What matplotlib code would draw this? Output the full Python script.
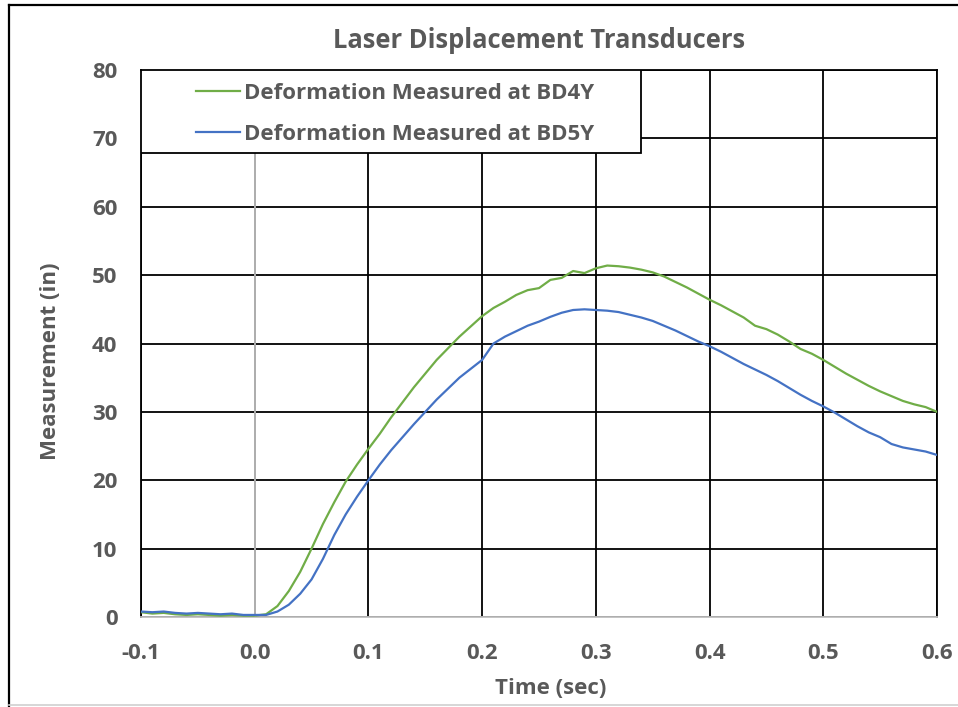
import numpy as np
import matplotlib.pyplot as plt
from matplotlib.patches import Rectangle
from matplotlib.lines import Line2D

# Time axis (sec), sampled every 0.01 s
time_sec = [round(-0.10 + 0.01 * i, 2) for i in range(71)]

# Deformation at BD4Y (in)
bd4y = [0.7, 0.5, 0.6, 0.4, 0.3, 0.4, 0.3, 0.2, 0.3, 0.2, 0.2,
        0.4, 1.6, 3.8, 6.6, 10.0, 13.6, 16.8, 19.8, 22.3, 24.6,
        26.8, 29.2, 31.4, 33.6, 35.6, 37.6, 39.3, 41.0, 42.5, 44.0,
        45.2, 46.1, 47.1, 47.8, 48.1, 49.3, 49.6, 50.6, 50.3, 51.0,
        51.4, 51.3, 51.1, 50.8, 50.4, 49.8, 49.0, 48.2, 47.3, 46.4,
        45.6, 44.7, 43.8, 42.6, 42.1, 41.3, 40.3, 39.2, 38.5, 37.6,
        36.6, 35.6, 34.7, 33.8, 33.0, 32.3, 31.6, 31.1, 30.7, 30.0]

# Deformation at BD5Y (in)
bd5y = [0.8, 0.7, 0.8, 0.6, 0.5, 0.6, 0.5, 0.4, 0.5, 0.3, 0.3,
        0.3, 0.8, 1.8, 3.4, 5.5, 8.5, 12.0, 15.0, 17.6, 20.0,
        22.3, 24.4, 26.3, 28.2, 30.0, 31.8, 33.4, 35.0, 36.3, 37.6,
        40.0, 41.0, 41.8, 42.6, 43.2, 43.9, 44.5, 44.9, 45.0, 44.9,
        44.8, 44.6, 44.2, 43.8, 43.3, 42.6, 41.9, 41.1, 40.3, 39.6,
        38.8, 37.9, 37.0, 36.2, 35.4, 34.5, 33.5, 32.5, 31.6, 30.8,
        29.9, 28.9, 27.9, 27.0, 26.3, 25.3, 24.8, 24.5, 24.2, 23.7]

x_ticks = [-0.1, 0.0, 0.1, 0.2, 0.3, 0.4, 0.5, 0.6]
y_ticks = [0, 10, 20, 30, 40, 50, 60, 70, 80]

text_gray = '#595959'
plt.rcParams['font.family'] = ['Open Sans', 'DejaVu Sans']
plt.rcParams['font.weight'] = 'bold'

W, H = 958, 707
fig = plt.figure(figsize=(W / 100, H / 100), dpi=100)
ax = fig.add_axes([141 / W, (H - 617) / H, (937 - 141) / W, (617 - 70) / H])

ax.plot(time_sec, bd4y, color='#70AD47', lw=1.6, label='Deformation Measured at BD4Y', zorder=4)
ax.plot(time_sec, bd5y, color='#4472C4', lw=1.6, label='Deformation Measured at BD5Y', zorder=4)

ax.set_xlim(-0.1, 0.6)
ax.set_ylim(0, 80)
ax.set_xticks(x_ticks)
ax.set_xticklabels([f'{v:.1f}' for v in x_ticks])
ax.set_yticks(y_ticks)
ax.tick_params(length=0, labelsize=16, labelcolor=text_gray)
ax.tick_params(axis='y', pad=17)
ax.tick_params(axis='x', pad=19)

ax.grid(True, color='black', lw=1.3, zorder=1)
ax.set_axisbelow(True)
for side in ['left', 'right', 'top']:
    ax.spines[side].set_color('black')
    ax.spines[side].set_linewidth(1.3)
ax.spines['bottom'].set_color('#BFBFBF')
ax.spines['bottom'].set_linewidth(1.3)
ax.axvline(0, color='#BFBFBF', lw=1.3, zorder=2)

ax.set_title('Laser Displacement Transducers', fontsize=18.4, color=text_gray,
             fontweight='bold', pad=16)
ax.set_xlabel('Time (sec)', fontsize=16, color=text_gray, fontweight='bold', labelpad=10)
ax.set_ylabel('Measurement (in)', fontsize=16, color=text_gray, fontweight='bold', labelpad=22)
ax.xaxis.label.set_x(0.515)
ax.yaxis.label.set_y(0.468)

# legend box in the upper-left corner of the plot
bw, bh = (641 - 141) / 796, (153 - 70) / 547
ax.add_patch(Rectangle((0, 1 - bh), bw, bh, transform=ax.transAxes,
                       facecolor='white', edgecolor='black', lw=1.3, zorder=5))
leg = ax.legend(loc='center', bbox_to_anchor=(bw / 2 + 0.005, 1 - bh / 2 - 0.004),
                frameon=False, fontsize=16, handlelength=2.0, handletextpad=0.15,
                labelspacing=0.9, labelcolor=text_gray)
leg.set_zorder(6)

# chart area border
fig.add_artist(Line2D([9 / W, 9 / W], [0, 1 - 5 / H], color='black', lw=1.6))
fig.add_artist(Line2D([9 / W, 1], [1 - 5 / H, 1 - 5 / H], color='black', lw=1.6))
fig.add_artist(Line2D([9 / W, 1], [1 - 705 / H, 1 - 705 / H], color='#D0D0D0', lw=1.2))

fig.savefig('out.png', dpi=100)
